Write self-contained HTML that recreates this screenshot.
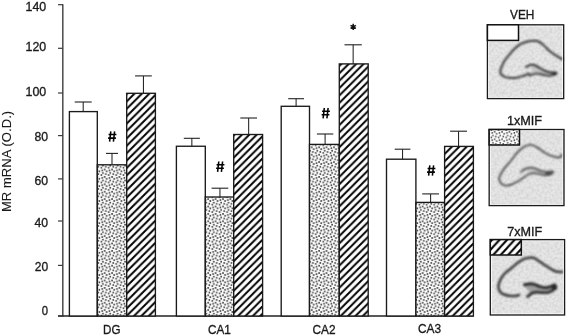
<!DOCTYPE html>
<html><head><meta charset="utf-8"><style>
html,body{margin:0;padding:0;background:#fff;width:567px;height:336px;overflow:hidden}
svg{display:block;will-change:transform}
text{font-family:"Liberation Sans",sans-serif;font-size:13.5px;fill:#1a1a1a;stroke:#1a1a1a;stroke-width:0.35px}
</style></head><body>
<svg width="567" height="336" viewBox="0 0 567 336">
<defs>
<pattern id="dots" patternUnits="userSpaceOnUse" width="7.395" height="7.4" x="100" y="250"><rect width="7.395" height="7.4" fill="#fbfbfb"/><g fill="#404040"><circle cx="2.15" cy="1.85" r="0.9"/><circle cx="-0.69" cy="2.78" r="0.9"/><circle cx="6.70" cy="2.78" r="0.9"/><circle cx="2.90" cy="4.46" r="0.9"/><circle cx="5.80" cy="5.58" r="0.9"/><circle cx="1.34" cy="-0.93" r="0.9"/><circle cx="1.34" cy="6.47" r="0.9"/><circle cx="4.69" cy="0.86" r="0.9"/><circle cx="4.69" cy="8.26" r="0.9"/></g></pattern>
<pattern id="hatchDG" patternUnits="userSpaceOnUse" width="7.395" height="7.395" x="6.3" y="0"><rect width="7.395" height="7.395" fill="#fff"/><path d="M-7.395,7.395 L7.395,-7.395 M0,14.79 L14.79,0 M-7.395,14.79 L7.395,0 M0,7.395 L7.395,0" stroke="#000" stroke-width="1.95"/></pattern>
<pattern id="hatchCA1" patternUnits="userSpaceOnUse" width="7.395" height="7.395" x="6.85" y="0"><rect width="7.395" height="7.395" fill="#fff"/><path d="M-7.395,7.395 L7.395,-7.395 M0,14.79 L14.79,0 M-7.395,14.79 L7.395,0 M0,7.395 L7.395,0" stroke="#000" stroke-width="1.95"/></pattern>
<pattern id="hatchCA2" patternUnits="userSpaceOnUse" width="7.395" height="7.395" x="5.95" y="0"><rect width="7.395" height="7.395" fill="#fff"/><path d="M-7.395,7.395 L7.395,-7.395 M0,14.79 L14.79,0 M-7.395,14.79 L7.395,0 M0,7.395 L7.395,0" stroke="#000" stroke-width="1.95"/></pattern>
<pattern id="hatchCA3" patternUnits="userSpaceOnUse" width="7.395" height="7.395" x="7.0" y="0"><rect width="7.395" height="7.395" fill="#fff"/><path d="M-7.395,7.395 L7.395,-7.395 M0,14.79 L14.79,0 M-7.395,14.79 L7.395,0 M0,7.395 L7.395,0" stroke="#000" stroke-width="1.95"/></pattern>
<pattern id="dots2" patternUnits="userSpaceOnUse" width="7.395" height="7.4" x="490" y="131"><rect width="7.395" height="7.4" fill="#fcfcfc"/><g fill="#444"><circle cx="2.15" cy="1.85" r="0.85"/><circle cx="-0.69" cy="2.78" r="0.85"/><circle cx="6.70" cy="2.78" r="0.85"/><circle cx="2.90" cy="4.46" r="0.85"/><circle cx="5.80" cy="5.58" r="0.85"/><circle cx="1.34" cy="-0.93" r="0.85"/><circle cx="1.34" cy="6.47" r="0.85"/><circle cx="4.69" cy="0.86" r="0.85"/><circle cx="4.69" cy="8.26" r="0.85"/></g></pattern>
<pattern id="hatch2" patternUnits="userSpaceOnUse" width="7.5" height="8.2" x="492.8" y="239">
<rect width="7.5" height="8.2" fill="#fff"/>
<path d="M-7.5,8.2 L7.5,-8.2 M0,16.4 L15,0 M-7.5,16.4 L7.5,0 M0,8.2 L7.5,0" stroke="#000" stroke-width="2.0"/>
</pattern>
<filter id="blur1" x="-10%" y="-10%" width="120%" height="120%"><feGaussianBlur stdDeviation="0.9"/></filter>
<filter id="noise" x="0" y="0" width="100%" height="100%">
<feTurbulence type="fractalNoise" baseFrequency="0.38" numOctaves="2" seed="7" result="t"/>
<feColorMatrix in="t" type="matrix" values="0 0 0 0 0  0 0 0 0 0  0 0 0 0 0  0.5 0 0 0 -0.18" />
</filter>
</defs>
<!-- axes -->
<line x1="62.8" y1="4.2" x2="62.8" y2="316.5" stroke="#4a4a4a" stroke-width="1.5"/>
<line x1="58" y1="316" x2="473.5" y2="316" stroke="#222" stroke-width="1.5"/>
<line x1="58" y1="4.7" x2="63" y2="4.7" stroke="#3a3a3a" stroke-width="1.2"/>
<line x1="58" y1="48.3" x2="63" y2="48.3" stroke="#3a3a3a" stroke-width="1.2"/>
<line x1="58" y1="93.0" x2="63" y2="93.0" stroke="#3a3a3a" stroke-width="1.2"/>
<line x1="58" y1="135.6" x2="63" y2="135.6" stroke="#3a3a3a" stroke-width="1.2"/>
<line x1="58" y1="178.9" x2="63" y2="178.9" stroke="#3a3a3a" stroke-width="1.2"/>
<line x1="58" y1="221.0" x2="63" y2="221.0" stroke="#3a3a3a" stroke-width="1.2"/>
<line x1="58" y1="265.4" x2="63" y2="265.4" stroke="#3a3a3a" stroke-width="1.2"/>
<line x1="58" y1="316.0" x2="63" y2="316.0" stroke="#3a3a3a" stroke-width="1.2"/>
<text x="25.5" y="10.6" textLength="20.7" lengthAdjust="spacingAndGlyphs">140</text>
<text x="25.5" y="51.4" textLength="20.7" lengthAdjust="spacingAndGlyphs">120</text>
<text x="25.5" y="96.4" textLength="20.7" lengthAdjust="spacingAndGlyphs">100</text>
<text x="34.5" y="141.3" textLength="13.6" lengthAdjust="spacingAndGlyphs">80</text>
<text x="34.5" y="184.6" textLength="13.6" lengthAdjust="spacingAndGlyphs">60</text>
<text x="34.5" y="226.6" textLength="13.6" lengthAdjust="spacingAndGlyphs">40</text>
<text x="34.7" y="271.3" textLength="13.4" lengthAdjust="spacingAndGlyphs">20</text>
<text x="41.8" y="314.6" textLength="6.3" lengthAdjust="spacingAndGlyphs">0</text>
<text transform="translate(10.8,212.1) rotate(-90)" textLength="101.3" lengthAdjust="spacing" style="font-size:13px;stroke-width:0.1px">MR mRNA (O.D.)</text>
<rect x="69.40" y="111.60" width="27.90" height="204.40" fill="#fff" stroke="#1a1a1a" stroke-width="1.35"/>
<line x1="83.20" y1="102.00" x2="83.20" y2="111.60" stroke="#222" stroke-width="1.05"/>
<line x1="74.70" y1="102.00" x2="91.70" y2="102.00" stroke="#222" stroke-width="1.1"/>
<rect x="97.30" y="164.80" width="29.40" height="151.20" fill="url(#dots)" stroke="#1a1a1a" stroke-width="1.35"/>
<line x1="112.00" y1="153.40" x2="112.00" y2="164.80" stroke="#222" stroke-width="1.05"/>
<line x1="106.00" y1="153.40" x2="118.00" y2="153.40" stroke="#222" stroke-width="1.1"/>
<rect x="126.70" y="93.30" width="28.70" height="222.70" fill="url(#hatchDG)" stroke="#1a1a1a" stroke-width="1.35"/>
<line x1="143.45" y1="75.90" x2="143.45" y2="93.30" stroke="#222" stroke-width="1.05"/>
<line x1="135.10" y1="75.90" x2="151.80" y2="75.90" stroke="#222" stroke-width="1.1"/>
<rect x="176.40" y="146.25" width="28.90" height="169.75" fill="#fff" stroke="#1a1a1a" stroke-width="1.35"/>
<line x1="191.85" y1="138.30" x2="191.85" y2="146.25" stroke="#222" stroke-width="1.05"/>
<line x1="183.80" y1="138.30" x2="199.90" y2="138.30" stroke="#222" stroke-width="1.1"/>
<rect x="205.30" y="197.00" width="28.40" height="119.00" fill="url(#dots)" stroke="#1a1a1a" stroke-width="1.35"/>
<line x1="219.95" y1="188.20" x2="219.95" y2="197.00" stroke="#222" stroke-width="1.05"/>
<line x1="211.60" y1="188.20" x2="228.30" y2="188.20" stroke="#222" stroke-width="1.1"/>
<rect x="233.70" y="134.50" width="28.90" height="181.50" fill="url(#hatchCA1)" stroke="#1a1a1a" stroke-width="1.35"/>
<line x1="248.65" y1="118.00" x2="248.65" y2="134.50" stroke="#222" stroke-width="1.05"/>
<line x1="240.30" y1="118.00" x2="257.00" y2="118.00" stroke="#222" stroke-width="1.1"/>
<rect x="281.20" y="106.30" width="28.30" height="209.70" fill="#fff" stroke="#1a1a1a" stroke-width="1.35"/>
<line x1="296.10" y1="98.70" x2="296.10" y2="106.30" stroke="#222" stroke-width="1.05"/>
<line x1="288.20" y1="98.70" x2="304.00" y2="98.70" stroke="#222" stroke-width="1.1"/>
<rect x="309.50" y="144.40" width="29.80" height="171.60" fill="url(#dots)" stroke="#1a1a1a" stroke-width="1.35"/>
<line x1="325.10" y1="134.00" x2="325.10" y2="144.40" stroke="#222" stroke-width="1.05"/>
<line x1="316.90" y1="134.00" x2="333.30" y2="134.00" stroke="#222" stroke-width="1.1"/>
<rect x="339.30" y="63.90" width="28.90" height="252.10" fill="url(#hatchCA2)" stroke="#1a1a1a" stroke-width="1.35"/>
<line x1="353.15" y1="44.80" x2="353.15" y2="63.90" stroke="#222" stroke-width="1.05"/>
<line x1="344.50" y1="44.80" x2="361.80" y2="44.80" stroke="#222" stroke-width="1.1"/>
<rect x="386.50" y="159.20" width="29.40" height="156.80" fill="#fff" stroke="#1a1a1a" stroke-width="1.35"/>
<line x1="402.55" y1="149.20" x2="402.55" y2="159.20" stroke="#222" stroke-width="1.05"/>
<line x1="394.70" y1="149.20" x2="410.40" y2="149.20" stroke="#222" stroke-width="1.1"/>
<rect x="415.90" y="202.40" width="28.70" height="113.60" fill="url(#dots)" stroke="#1a1a1a" stroke-width="1.35"/>
<line x1="430.60" y1="193.90" x2="430.60" y2="202.40" stroke="#222" stroke-width="1.05"/>
<line x1="422.20" y1="193.90" x2="439.00" y2="193.90" stroke="#222" stroke-width="1.1"/>
<rect x="444.60" y="146.40" width="28.80" height="169.60" fill="url(#hatchCA3)" stroke="#1a1a1a" stroke-width="1.35"/>
<line x1="458.55" y1="131.20" x2="458.55" y2="146.40" stroke="#222" stroke-width="1.05"/>
<line x1="450.10" y1="131.20" x2="467.00" y2="131.20" stroke="#222" stroke-width="1.1"/>
<text x="103.1" y="334.1" textLength="17.4" lengthAdjust="spacingAndGlyphs">DG</text>
<text x="207.9" y="333.8" textLength="22.9" lengthAdjust="spacingAndGlyphs">CA1</text>
<text x="312.5" y="333.7" textLength="23.0" lengthAdjust="spacingAndGlyphs">CA2</text>
<text x="418.0" y="333.4" textLength="23.1" lengthAdjust="spacingAndGlyphs">CA3</text>
<path d="M110.80,131.30 L109.60,141.70 M114.60,131.30 L113.40,141.70 M108.60,134.50 L116.40,134.50 M108.10,138.10 L115.90,138.10" stroke="#000" stroke-width="1.55" fill="none"/>
<path d="M218.80,161.50 L217.60,171.90 M222.60,161.50 L221.40,171.90 M216.60,164.70 L224.40,164.70 M216.10,168.30 L223.90,168.30" stroke="#000" stroke-width="1.55" fill="none"/>
<path d="M324.30,108.00 L323.10,118.40 M328.10,108.00 L326.90,118.40 M322.10,111.20 L329.90,111.20 M321.60,114.80 L329.40,114.80" stroke="#000" stroke-width="1.55" fill="none"/>
<path d="M429.80,165.30 L428.60,175.70 M433.60,165.30 L432.40,175.70 M427.60,168.50 L435.40,168.50 M427.10,172.10 L434.90,172.10" stroke="#000" stroke-width="1.55" fill="none"/>
<path d="M353.20,30.00 L353.20,23.80 M355.88,28.45 L350.52,25.35 M350.52,28.45 L355.88,25.35" stroke="#111" stroke-width="1.5" fill="none"/>
<text x="510.0" y="19.1" textLength="24.4" lengthAdjust="spacingAndGlyphs">VEH</text>
<rect x="487.4" y="24.8" width="76.30" height="73.80" fill="#e6e6e6"/>
<rect x="487.4" y="24.8" width="76.30" height="73.80" fill="#000" filter="url(#noise)" opacity="0.35"/>
<g filter="url(#blur1)"><polygon points="531,64.8 535.4,65.4 539.7,68.1 545.2,70.9 550.7,72.5 555,72.5 554,74.9 548.5,75.8 543,74.7 537.6,73.6 533.2,74.1" fill="#8a8a8a" opacity="0.35"/><path d="M563.30,59.30 C563.07,59.25 563.23,59.70 561.90,59.00 C560.57,58.30 557.32,56.38 555.30,55.10 C553.28,53.82 551.43,52.67 549.80,51.30 C548.17,49.93 546.95,48.27 545.50,46.90 C544.05,45.53 542.57,44.10 541.10,43.10 C539.63,42.10 538.70,41.22 536.70,40.90 C534.70,40.58 531.65,40.73 529.10,41.20 C526.55,41.67 523.78,42.47 521.40,43.70 C519.02,44.93 516.80,46.78 514.80,48.60 C512.80,50.42 511.08,52.62 509.40,54.60 C507.72,56.58 505.93,58.62 504.70,60.50 C503.47,62.38 502.72,64.27 502.00,65.90 C501.28,67.53 500.58,68.93 500.40,70.30 C500.22,71.67 500.18,73.00 500.90,74.10 C501.62,75.20 502.97,76.25 504.70,76.90 C506.43,77.55 509.10,77.92 511.30,78.00 C513.50,78.08 515.90,77.77 517.90,77.40 C519.90,77.03 521.67,76.35 523.30,75.80 C524.93,75.25 526.58,74.50 527.70,74.10 C528.82,73.70 529.62,73.52 530.00,73.40" fill="none" stroke="#333" stroke-width="2.0"/><path d="M525.50,67.30 C526.42,66.88 529.35,65.12 531.00,64.80 C532.65,64.48 533.95,64.85 535.40,65.40 C536.85,65.95 538.07,67.18 539.70,68.10 C541.33,69.02 543.37,70.17 545.20,70.90 C547.03,71.63 549.07,72.23 550.70,72.50 C552.33,72.77 554.28,72.50 555.00,72.50" fill="none" stroke="#2e2e2e" stroke-width="2.1"/><path d="M554.00,74.90 C553.08,75.05 550.33,75.83 548.50,75.80 C546.67,75.77 544.82,75.07 543.00,74.70 C541.18,74.33 539.23,73.70 537.60,73.60 C535.97,73.50 534.67,73.67 533.20,74.10 C531.73,74.53 529.53,75.85 528.80,76.20" fill="none" stroke="#333" stroke-width="1.9"/><ellipse cx="555" cy="73.6" rx="2.4" ry="2.0" fill="#2a2a2a"/></g>
<rect x="488.60" y="26.00" width="73.90" height="71.40" fill="none" stroke="#fff" stroke-width="0.9" opacity="0.8"/>
<rect x="487.4" y="24.8" width="76.30" height="73.80" fill="none" stroke="#1a1a1a" stroke-width="1.3"/>
<rect x="487.4" y="24.8" width="31.10" height="15.60" fill="#fff" stroke="#111" stroke-width="1.5"/>
<text x="506.9" y="124.5" textLength="35.2" lengthAdjust="spacingAndGlyphs">1xMIF</text>
<rect x="489.15" y="129.5" width="74.85" height="76.10" fill="#e6e6e6"/>
<rect x="489.15" y="129.5" width="74.85" height="76.10" fill="#000" filter="url(#noise)" opacity="0.35"/>
<g filter="url(#blur1)"><polygon points="524.4,169.3 529.9,167.7 535.4,168.7 540.8,170.9 546.3,172 551.8,171.5 554,172.6 550.7,174.8 545.2,175.3 539.7,174.2 534.3,173.1 528.8,174.2" fill="#999" opacity="0.35"/><path d="M561.30,153.50 C561.30,153.98 561.75,155.73 561.30,156.40 C560.85,157.07 559.97,157.50 558.60,157.50 C557.23,157.50 554.93,156.95 553.10,156.40 C551.27,155.85 549.42,155.12 547.60,154.20 C545.78,153.28 544.02,152.08 542.20,150.90 C540.38,149.72 538.43,148.10 536.70,147.10 C534.97,146.10 533.43,145.17 531.80,144.90 C530.17,144.63 528.63,144.87 526.90,145.50 C525.17,146.13 523.23,147.25 521.40,148.70 C519.57,150.15 517.72,152.10 515.90,154.20 C514.08,156.30 512.18,159.23 510.50,161.30 C508.82,163.37 507.22,164.82 505.80,166.60 C504.38,168.38 503.08,170.18 502.00,172.00 C500.92,173.82 499.67,175.95 499.30,177.50 C498.93,179.05 499.25,180.12 499.80,181.30 C500.35,182.48 501.42,183.87 502.60,184.60 C503.78,185.33 505.27,185.78 506.90,185.70 C508.53,185.62 510.57,184.83 512.40,184.10 C514.23,183.37 516.27,182.22 517.90,181.30 C519.53,180.38 520.93,179.42 522.20,178.60 C523.47,177.78 524.95,176.77 525.50,176.40" fill="none" stroke="#4a4a4a" stroke-width="1.8"/><path d="M520.60,172.60 C521.23,172.05 522.85,170.12 524.40,169.30 C525.95,168.48 528.07,167.80 529.90,167.70 C531.73,167.60 533.58,168.17 535.40,168.70 C537.22,169.23 538.98,170.35 540.80,170.90 C542.62,171.45 544.47,171.90 546.30,172.00 C548.13,172.10 550.52,171.40 551.80,171.50 C553.08,171.60 553.63,172.42 554.00,172.60" fill="none" stroke="#464646" stroke-width="1.8"/><path d="M550.70,174.80 C549.78,174.88 547.03,175.40 545.20,175.30 C543.37,175.20 541.52,174.57 539.70,174.20 C537.88,173.83 536.12,173.10 534.30,173.10 C532.48,173.10 530.27,173.65 528.80,174.20 C527.33,174.75 526.05,176.03 525.50,176.40" fill="none" stroke="#4a4a4a" stroke-width="1.7"/><ellipse cx="549" cy="173.5" rx="4" ry="1.7" fill="#505050"/></g>
<rect x="490.35" y="130.70" width="72.45" height="73.70" fill="none" stroke="#fff" stroke-width="0.9" opacity="0.8"/>
<rect x="489.15" y="129.5" width="74.85" height="76.10" fill="none" stroke="#1a1a1a" stroke-width="1.3"/>
<rect x="489.15" y="129.5" width="30.35" height="15.50" fill="url(#dots2)" stroke="#111" stroke-width="1.5"/>
<text x="507.2" y="235.6" textLength="35.0" lengthAdjust="spacingAndGlyphs">7xMIF</text>
<rect x="490.3" y="239.6" width="74.30" height="75.40" fill="#e6e6e6"/>
<rect x="490.3" y="239.6" width="74.30" height="75.40" fill="#000" filter="url(#noise)" opacity="0.35"/>
<g filter="url(#blur1)"><polygon points="523.3,285 528.8,283.9 534.3,284.4 539.7,286.6 545.2,287.7 550.7,286.6 555.6,284.4 555,288.2 551.8,291 547.4,292.6 541.9,292.6 536.5,292.1 531,293.7" fill="#6a6a6a" opacity="0.55"/><path d="M563.50,271.60 C563.23,271.65 563.27,271.95 561.90,271.90 C560.53,271.85 557.50,272.03 555.30,271.30 C553.10,270.57 551.07,268.95 548.70,267.50 C546.33,266.05 543.47,264.15 541.10,262.60 C538.73,261.05 536.15,259.07 534.50,258.20 C532.85,257.33 532.83,257.32 531.20,257.40 C529.57,257.48 526.88,257.83 524.70,258.70 C522.52,259.57 520.28,261.05 518.10,262.60 C515.92,264.15 513.83,266.18 511.60,268.00 C509.37,269.82 506.48,271.68 504.70,273.50 C502.92,275.32 501.90,277.08 500.90,278.90 C499.90,280.72 499.07,282.75 498.70,284.40 C498.33,286.05 498.33,287.43 498.70,288.80 C499.07,290.17 499.90,291.60 500.90,292.60 C501.90,293.60 503.15,294.25 504.70,294.80 C506.25,295.35 508.37,295.72 510.20,295.90 C512.03,296.08 514.05,296.08 515.70,295.90 C517.35,295.72 519.37,294.98 520.10,294.80" fill="none" stroke="#363636" stroke-width="2.5"/><path d="M523.30,285.00 C524.22,284.82 526.97,284.00 528.80,283.90 C530.63,283.80 532.48,283.95 534.30,284.40 C536.12,284.85 537.88,286.05 539.70,286.60 C541.52,287.15 543.37,287.70 545.20,287.70 C547.03,287.70 548.97,287.15 550.70,286.60 C552.43,286.05 554.78,284.77 555.60,284.40" fill="none" stroke="#262626" stroke-width="3.0"/><path d="M555.00,288.20 C554.47,288.67 553.07,290.27 551.80,291.00 C550.53,291.73 549.05,292.33 547.40,292.60 C545.75,292.87 543.72,292.68 541.90,292.60 C540.08,292.52 538.32,291.92 536.50,292.10 C534.68,292.28 532.65,292.80 531.00,293.70 C529.35,294.60 527.33,296.87 526.60,297.50" fill="none" stroke="#2c2c2c" stroke-width="2.7"/><ellipse cx="554.5" cy="287.3" rx="2.8" ry="3" fill="#262626"/></g>
<rect x="491.50" y="240.80" width="71.90" height="73.00" fill="none" stroke="#fff" stroke-width="0.9" opacity="0.8"/>
<rect x="490.3" y="239.6" width="74.30" height="75.40" fill="none" stroke="#1a1a1a" stroke-width="1.3"/>
<rect x="490.3" y="239.6" width="31.00" height="15.40" fill="url(#hatch2)" stroke="#111" stroke-width="1.5"/>
</svg>
</body></html>
